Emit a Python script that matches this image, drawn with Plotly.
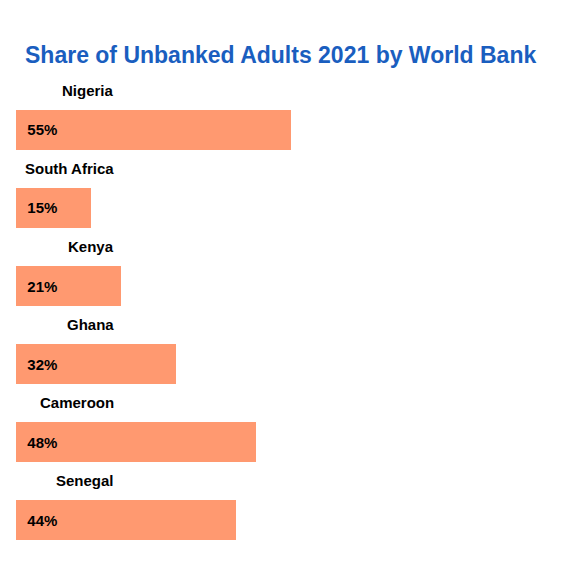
import plotly.graph_objects as go

countries = ["Nigeria", "South Africa", "Kenya", "Ghana", "Cameroon", "Senegal"]
values = [55, 15, 21, 32, 48, 44]

pos = list(range(len(countries)))
fig = go.Figure(go.Bar(
    x=values, y=pos, orientation="h", width=0.513,
    marker=dict(color="#FF9970", line=dict(width=0)),
    text=[f"  {v}%" for v in values], textposition="inside", insidetextanchor="start",
    textfont=dict(family="Liberation Sans, Arial", size=15, color="black", weight="bold"),
    hoverinfo="skip",
))
for p, c in zip(pos, countries):
    fig.add_annotation(x=20, y=p - 0.51, text=f"<b>{c}</b>", showarrow=False,
                       xanchor="right", yanchor="middle",
                       font=dict(family="Liberation Sans, Arial", size=15, color="black"))
fig.update_layout(
    width=567, height=561, margin=dict(l=8, r=59, t=52, b=29),
    paper_bgcolor="white", plot_bgcolor="white", showlegend=False,
    title=dict(text="<b>Share of Unbanked Adults 2021 by World Bank</b>", x=17/567, xanchor="left",
               y=1 - 47/561, yanchor="middle",
               font=dict(family="Liberation Sans, Arial", size=23, color="#1A5EBF")),
    xaxis=dict(range=[0, 100], visible=False),
    yaxis=dict(range=[5.256, -0.897], visible=False),
)
fig.write_html("out.html")
